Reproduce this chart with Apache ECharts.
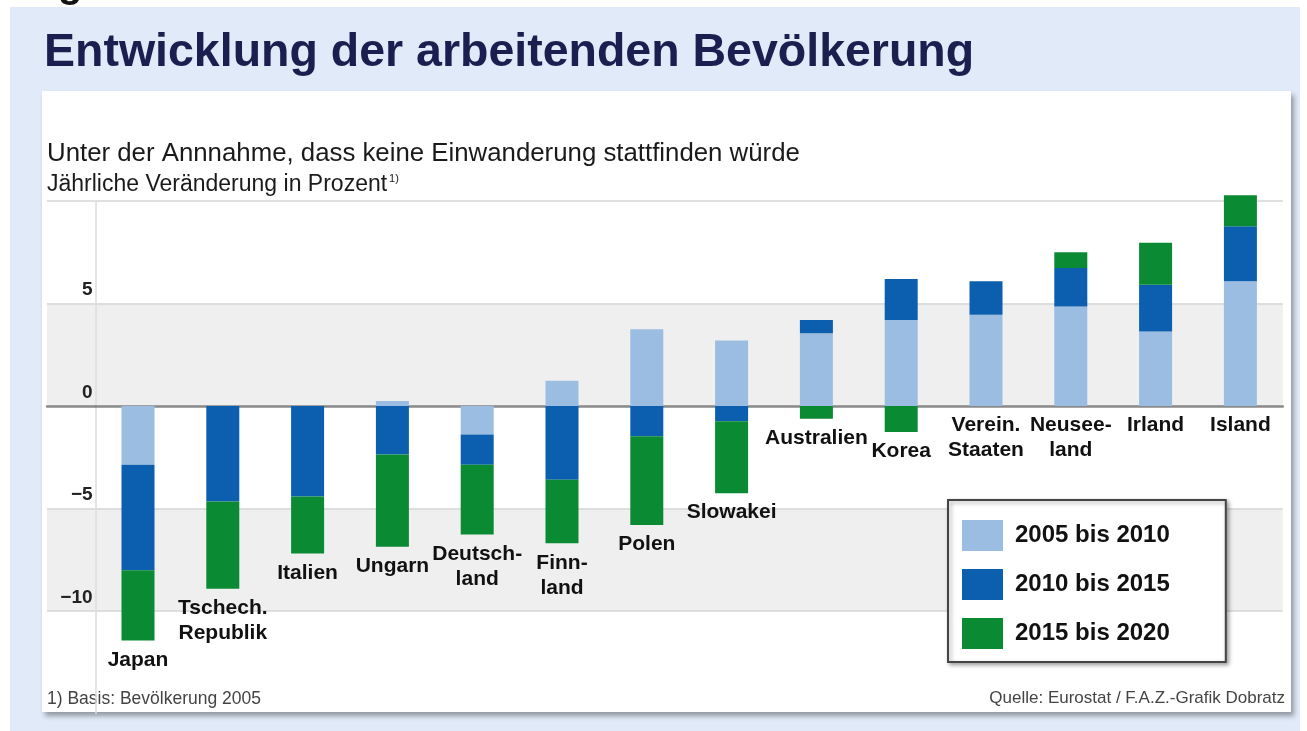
<html><head><meta charset="utf-8"><script src="https://cdn.jsdelivr.net/npm/echarts@6/dist/echarts.min.js"></script>
<style type="text/css">
        html, body { height: 100%; margin: 0px; padding: 0px; background: #fff; }
    </style></head><body><div id="main" style="width: 1307px;height:731px;"></div><script type="text/javascript">
        var categories = ['Japan', 'Tschech.\nRepublik', 'Italien', 'Ungarn', 'Deutsch-\nland', 'Finn-\nland', 'Polen',
            'Slowakei', 'Australien', 'Korea', 'Verein.\nStaaten', 'Neusee-\nland', 'Irland', 'Island'];
        var periods = ['2005 bis 2010', '2010 bis 2015', '2015 bis 2020'];
        var p2005 = [-2.86, 0, 0, 0.25, -1.39, 1.23, 3.75, 3.19, 3.55, 4.2, 4.45, 4.85, 3.63, 6.08];
        var p2010 = [-5.15, -4.66, -4.41, -2.37, -1.48, -3.6, -1.47, -0.74, 0.64, 2.0, 1.63, 1.88, 2.29, 2.69];
        var p2015 = [-3.43, -4.25, -2.78, -4.49, -3.4, -3.1, -4.33, -3.51, -0.62, -1.27, 0, 0.77, 2.04, 1.51];
        var colors = ['#9bbde2', '#0b5fae', '#0b8a34'];

        var myChart = echarts.init(document.getElementById('main'));
        var font = '"Liberation Sans", Arial, sans-serif';

        // lowest point of each stacked bar, the country name sits below it
        var lows = categories.map(function (c, i) {
            var s = 0;
            [p2005[i], p2010[i], p2015[i]].forEach(function (v) { if (v < 0) s += v; });
            return [i, s];
        });

        var bars = [p2005, p2010, p2015].map(function (vals, k) {
            return {
                name: periods[k],
                type: 'bar',
                stack: 'all',
                barWidth: 33,
                clip: false,
                itemStyle: { color: colors[k] },
                data: vals
            };
        });

        var yCommon = {
            type: 'value', min: -15, max: 10, interval: 5,
            splitLine: { show: true, showMinLine: false, lineStyle: { color: '#d6d6d6', width: 1.5 } },
            splitArea: { show: true, areaStyle: { color: ['rgba(255,255,255,0)', '#efefef'] } }
        };

        option = {
            backgroundColor: '#fff',
            animation: false,
            graphic: [
                { type: 'text', left: 58, top: -34, z: -11, style: { text: 'g', font: 'bold 40px ' + font, fill: '#111' } },
                { type: 'rect', z: -10, shape: { x: 10, y: 7, width: 1290, height: 724 }, style: { fill: '#e0eaf8' } },
                { type: 'rect', z: -9, shape: { x: 42, y: 91, width: 1249, height: 621 },
                  style: { fill: '#fff', shadowBlur: 5, shadowOffsetX: 3, shadowOffsetY: 4, shadowColor: 'rgba(0,0,0,0.35)' } },
                { type: 'text', left: 44, top: 30, style: { text: 'Entwicklung der arbeitenden Bevölkerung',
                    font: 'bold 46.5px ' + font, fill: '#1b1f4f' } },
                { type: 'text', left: 47, top: 141, style: { text: 'Unter der Annnahme, dass keine Einwanderung stattfinden würde',
                    font: '25.8px ' + font, fill: '#1a1a1a' } },
                { type: 'text', left: 47, top: 173, style: { text: 'Jährliche Veränderung in Prozent{sup|1)}',
                    font: '23px ' + font, fill: '#1a1a1a', rich: { sup: { fontSize: 11, verticalAlign: 'top', padding: [0, 0, 11, 2] } } } },
                { type: 'text', left: 47, top: 690, style: { text: '1) Basis: Bevölkerung 2005', font: '17.5px ' + font, fill: '#444' } },
                { type: 'text', right: 22, top: 690, style: { text: 'Quelle: Eurostat / F.A.Z.-Grafik Dobratz', font: '17px ' + font, fill: '#444' } }
            ],
            legend: {
                data: periods,
                orient: 'vertical',
                left: 948, top: 500,
                itemWidth: 41, itemHeight: 31, itemGap: 18,
                padding: [20, 56, 13, 14],
                backgroundColor: '#fff',
                borderColor: '#444', borderWidth: 2,
                shadowBlur: 4, shadowOffsetX: 2, shadowOffsetY: 2, shadowColor: 'rgba(0,0,0,0.35)',
                icon: 'rect',
                textStyle: { fontFamily: font, fontWeight: 'bold', fontSize: 24, color: '#111', padding: [0, 0, 0, 7] }
            },
            grid: [
                { left: 95.6, top: 201, width: 1187.2, height: 512.5 },
                { left: 47, top: 201, width: 48.6, height: 512.5 }
            ],
            xAxis: [
                { type: 'category', data: categories, gridIndex: 0,
                  axisTick: { show: false }, axisLabel: { show: false },
                  axisLine: { onZero: true, lineStyle: { color: '#8a8a8a', width: 2.5 } } },
                { type: 'value', gridIndex: 1, min: 0, max: 1, splitLine: { show: false },
                  axisTick: { show: false }, axisLabel: { show: false },
                  axisLine: { onZero: true, lineStyle: { color: '#8a8a8a', width: 2.5 } } }
            ],
            yAxis: [
                Object.assign({}, yCommon, {
                    gridIndex: 0,
                    axisLine: { show: true, lineStyle: { color: '#dcdcdc', width: 1.5 } },
                    axisTick: { show: false },
                    axisLabel: {
                        margin: 3, verticalAlign: 'bottom', padding: [0, 0, 4, 0],
                        fontFamily: font, fontWeight: 'bold', fontSize: 19, color: '#222',
                        formatter: function (v) {
                            if (v > 5 || v < -10) return '';
                            return String(v).replace('-', '\u2212');
                        }
                    }
                }),
                Object.assign({}, yCommon, {
                    gridIndex: 1,
                    axisLine: { show: false }, axisTick: { show: false }, axisLabel: { show: false }
                })
            ],
            series: bars.concat([{
                type: 'scatter',
                symbolSize: 0,
                silent: true,
                itemStyle: { opacity: 1 },
                data: lows,
                label: {
                    show: true, position: 'bottom', distance: 7, opacity: 1,
                    fontFamily: font, fontWeight: 'bold', fontSize: 21, lineHeight: 25, color: '#111',
                    formatter: function (p) { return categories[p.dataIndex]; }
                }
            }])
        };
        myChart.setOption(option);
    </script></body></html>
